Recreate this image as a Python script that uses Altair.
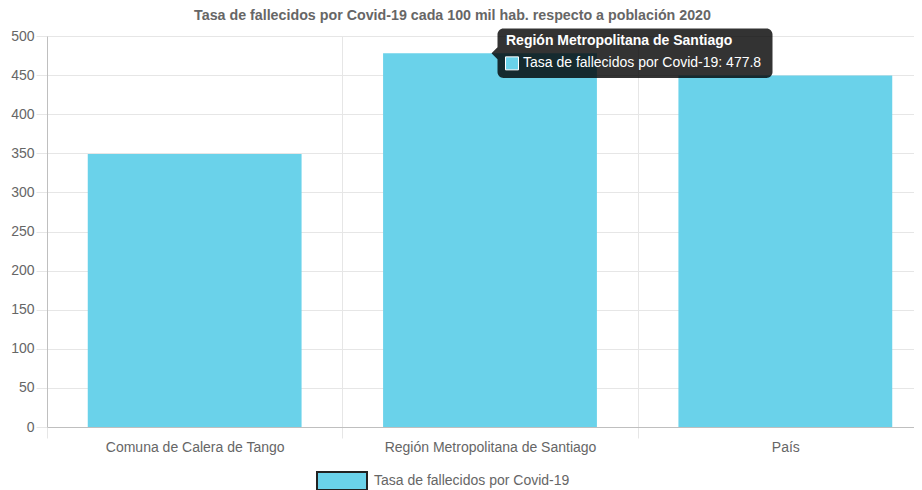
import altair as alt
import pandas as pd

categorias = ["Comuna de Calera de Tango", "Región Metropolitana de Santiago", "País"]
valores = [349.0, 477.8, 449.5]
serie = "Tasa de fallecidos por Covid-19"
titulo = "Tasa de fallecidos por Covid-19 cada 100 mil hab. respecto a población 2020"
ticks_y = [0, 50, 100, 150, 200, 250, 300, 350, 400, 450, 500]
tooltip_cat = "Región Metropolitana de Santiago"

df = pd.DataFrame({"categoria": categorias, "valor": valores, "serie": [serie] * len(categorias)})
tip = df[df["categoria"] == tooltip_cat].copy()
tip["cuerpo"] = tip["serie"] + ": " + tip["valor"].map(lambda v: f"{v:g}")

FONT = "Liberation Sans"
CYAN = "#6AD2EA"
GRID = "#e6e6e6"
ZERO = "#bfbfbf"
LABEL = "#666666"

x = alt.X(
    "categoria:N", sort=categorias, title=None,
    scale=alt.Scale(paddingInner=0, paddingOuter=0, range=[0, 886]),
    axis=alt.Axis(tickBand="extent", grid=True, gridColor=GRID, ticks=True, tickColor=GRID,
                  tickSize=11, domainColor=ZERO, labelColor=LABEL, labelFontSize=14,
                  labelFont=FONT, labelPadding=2, labelAngle=0, labelLimit=0),
)
y = alt.Y(
    "valor:Q", title=None,
    scale=alt.Scale(domain=[0, 500], nice=False),
    axis=alt.Axis(values=ticks_y, grid=True, gridColor=GRID, ticks=True, tickColor=GRID,
                  tickSize=11, domainColor=ZERO, labelColor=LABEL, labelFontSize=14,
                  labelFont=FONT, labelPadding=2, labelOverlap=False),
)

legend_box = "M-1,-0.36H1V0.36H-1Z"
bars = alt.Chart(df).mark_bar(width=alt.RelativeBandSize(0.724)).encode(
    x=x, y=y,
    color=alt.Color("serie:N", scale=alt.Scale(range=[CYAN]),
                    legend=alt.Legend(title=None, orient="none", legendX=269, legendY=419,
                                      padding=0,
                                      symbolType=legend_box, symbolSize=2500,
                                      symbolStrokeColor="#222222", symbolStrokeWidth=2,
                                      labelFontSize=14, labelColor=LABEL, labelFont=FONT,
                                      labelOffset=6, labelLimit=0)),
)

r = 0.0436
tip_shape = (
    f"M{-1 + r},-0.18 H{1 - r} A{r},{r} 0 0 1 1,{-0.18 + r} V{0.18 - r} "
    f"A{r},{r} 0 0 1 {1 - r},0.18 H{-1 + r} A{r},{r} 0 0 1 -1,{0.18 - r} "
    f"V0.0436 L-1.0436,0 L-1,-0.0436 V{-0.18 + r} A{r},{r} 0 0 1 {-1 + r},-0.18 Z"
)

tip_base = alt.Chart(tip).encode(x=x, y=y)
tip_bg = tip_base.mark_point(shape=tip_shape, size=275 ** 2, filled=True, color="black",
                             opacity=0.8, xOffset=145)
tip_title = tip_base.mark_text(align="left", baseline="middle", dx=16, dy=-12, fontSize=14,
                               fontWeight="bold", color="white", font=FONT).encode(text="categoria:N")
tip_sq = tip_base.mark_point(shape="square", size=169, filled=True, fill=CYAN, stroke="white",
                             strokeWidth=1, opacity=1, xOffset=22, yOffset=10)
tip_body = tip_base.mark_text(align="left", baseline="middle", dx=33, dy=10, fontSize=14,
                              color="white", font=FONT).encode(text="cuerpo:N")

chart = alt.layer(bars, tip_bg, tip_title, tip_sq, tip_body).properties(
    width=867, height=391,
    padding={"left": 39, "top": 28, "right": 0, "bottom": 63},
    autosize=alt.AutoSizeParams(type="none"),
    title=alt.TitleParams(titulo, fontSize=14.25, font=FONT, color=LABEL, fontWeight="bold",
                          anchor="middle", dx=-28, offset=5, frame="group"),
).configure_view(stroke=None)

chart.save("out.html", embed_options={"renderer": "svg", "actions": False})
